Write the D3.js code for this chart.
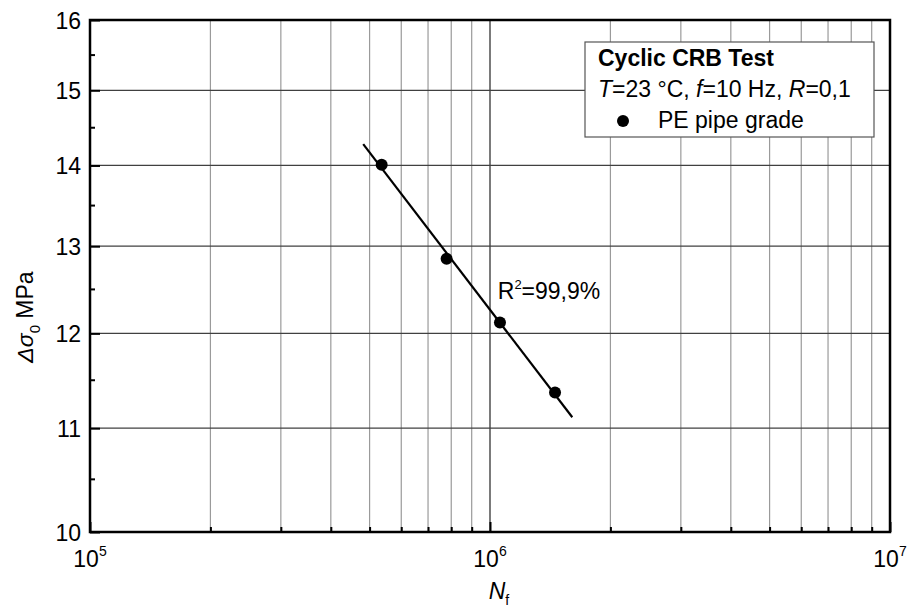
<!DOCTYPE html>
<html><head><meta charset="utf-8">
<script src="https://cdn.jsdelivr.net/npm/d3@7"></script>
<style>body{margin:0;background:#fff}svg{display:block}text{font-family:"Liberation Sans",Arial,sans-serif;fill:#000}</style>
</head><body><svg id="c" width="908" height="610"></svg>
<script>
// Data
const cyclesNf = [5.36e5, 7.79e5, 1.059e6, 1.454e6];
const stressRange = [14.01, 12.85, 12.12, 11.365];
const fitRangeNf = [4.82e5, 1.606e6];
const yTicks = [10, 11, 12, 13, 14, 15, 16];
const yMinor = [10.5, 11.5, 12.5, 13.5, 14.5, 15.5];
const xDecades = [1e5, 1e6, 1e7];
const xDecadeExp = ["5", "6", "7"];
const legendTitle = "Cyclic CRB Test";
const seriesName = "PE pipe grade";
const r2Label = "99,9%";

const W = 908, H = 610;
const m = {l: 90, r: 18, t: 20, b: 78};
const svg = d3.select("#c");
const x = d3.scaleLog().domain([1e5, 1e7]).range([m.l, W - m.r]);
const y = d3.scaleLog().domain([10, 16]).range([H - m.b, m.t]);
const x0 = m.l, x1 = W - m.r, y0 = H - m.b, y1 = m.t;

const xMinor = [];
[1e5, 1e6].forEach(d => { for (let k = 2; k <= 9; k++) xMinor.push(d * k); });

// vertical grid
svg.append("g").selectAll("line").data(xMinor).join("line")
  .attr("x1", d => x(d)).attr("x2", d => x(d)).attr("y1", y1).attr("y2", y0)
  .attr("stroke", "#9a9a9a").attr("stroke-width", 1.2);
svg.append("line").attr("x1", x(1e6)).attr("x2", x(1e6)).attr("y1", y1).attr("y2", y0)
  .attr("stroke", "#333").attr("stroke-width", 1.3);
// horizontal grid
svg.append("g").selectAll("line").data(yTicks.slice(1, -1)).join("line")
  .attr("x1", x0).attr("x2", x1).attr("y1", d => y(d)).attr("y2", d => y(d))
  .attr("stroke", "#404040").attr("stroke-width", 1.2);

// axes ticks (inward)
const gx = svg.append("g").attr("transform", `translate(0,${y0})`)
  .call(d3.axisBottom(x).tickValues(xMinor).tickSize(-5).tickFormat(""));
const gx2 = svg.append("g").attr("transform", `translate(0,${y0})`)
  .call(d3.axisBottom(x).tickValues(xDecades).tickSize(-10).tickFormat(""));
const gy = svg.append("g").attr("transform", `translate(${x0},0)`)
  .call(d3.axisLeft(y).tickValues(yMinor).tickSize(-5).tickFormat(""));
const gy2 = svg.append("g").attr("transform", `translate(${x0},0)`)
  .call(d3.axisLeft(y).tickValues(yTicks).tickSize(-10).tickFormat(""));
[gx, gx2, gy, gy2].forEach(g => {
  g.select(".domain").remove();
  g.selectAll(".tick line").attr("stroke", "#000").attr("stroke-width", 2);
});

// y tick labels
svg.append("g").selectAll("text").data(yTicks).join("text")
  .attr("x", x0 - 9).attr("y", d => y(d) + 8.5).attr("text-anchor", "end")
  .attr("font-size", 23).text(d => d);
// x tick labels 10^n
const xl = svg.append("g").selectAll("text").data(xDecades).join("text")
  .attr("x", d => x(d)).attr("y", y0 + 35).attr("text-anchor", "middle").attr("font-size", 23);
xl.append("tspan").text("10");
xl.append("tspan").attr("dy", -11).attr("font-size", 14).text((d, i) => xDecadeExp[i]);

// frame
svg.append("rect").attr("x", x0).attr("y", y1).attr("width", x1 - x0).attr("height", y0 - y1)
  .attr("fill", "none").attr("stroke", "#000").attr("stroke-width", 2.5);

// axis titles
const xt = svg.append("text").attr("x", x(1e6) + 9).attr("y", y0 + 67).attr("text-anchor", "middle").attr("font-size", 23);
xt.append("tspan").attr("font-style", "italic").text("N");
xt.append("tspan").attr("dy", 6).attr("font-size", 14).text("f");

const yt = svg.append("text").attr("transform", `translate(33,${(y0 + y1) / 2 + 41}) rotate(-90)`)
  .attr("text-anchor", "middle").attr("font-size", 23);
yt.append("tspan").attr("font-style", "italic").text("Δσ");
yt.append("tspan").attr("dy", 7).attr("font-size", 15).text("0");
yt.append("tspan").attr("dy", -7).text(" MPa");

// regression (log-log)
const lx = cyclesNf.map(Math.log10), ly = stressRange.map(Math.log10);
const mx = d3.mean(lx), my = d3.mean(ly);
const slope = d3.sum(lx.map((v, i) => (v - mx) * (ly[i] - my))) / d3.sum(lx.map(v => (v - mx) ** 2));
const icpt = my - slope * mx;
const fit = fitRangeNf.map(n => [n, Math.pow(10, icpt + slope * Math.log10(n))]);
svg.append("path").attr("d", d3.line().x(d => x(d[0])).y(d => y(d[1]))(fit))
  .attr("stroke", "#000").attr("stroke-width", 2.2).attr("fill", "none");

// points
svg.append("g").selectAll("circle").data(cyclesNf).join("circle")
  .attr("cx", d => x(d)).attr("cy", (d, i) => y(stressRange[i])).attr("r", 6).attr("fill", "#000");

// R2 label
const rt = svg.append("text").attr("x", x(1.07e6) - 4).attr("y", 299).attr("font-size", 23);
rt.append("tspan").text("R");
rt.append("tspan").attr("dy", -10).attr("font-size", 13).text("2");
rt.append("tspan").attr("dy", 10).text("=" + r2Label);

// legend
const lg = svg.append("g");
lg.append("rect").attr("x", 585).attr("y", 42).attr("width", 289).attr("height", 95)
  .attr("fill", "#fff").attr("stroke", "#555").attr("stroke-width", 1.2);
lg.append("text").attr("x", 598).attr("y", 66).attr("font-size", 23).attr("font-weight", "bold").text(legendTitle);
const l2 = lg.append("text").attr("x", 598).attr("y", 97).attr("font-size", 23);
l2.append("tspan").attr("font-style", "italic").text("T");
l2.append("tspan").text("=23 °C, ");
l2.append("tspan").attr("font-style", "italic").text("f");
l2.append("tspan").text("=10 Hz, ");
l2.append("tspan").attr("font-style", "italic").text("R");
l2.append("tspan").text("=0,1");
lg.append("circle").attr("cx", 623).attr("cy", 121).attr("r", 6).attr("fill", "#000");
lg.append("text").attr("x", 658).attr("y", 128).attr("font-size", 23).text(seriesName);
</script></body></html>
